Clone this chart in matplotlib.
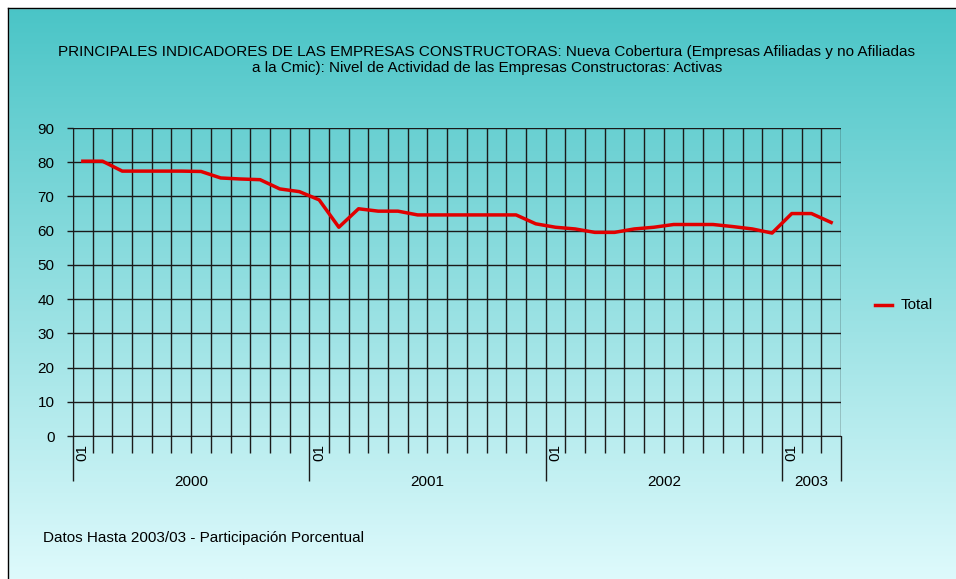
import numpy as np
import matplotlib.pyplot as plt
from matplotlib.lines import Line2D

# Nivel de actividad, empresas activas (%), mensual 2000/01 - 2003/03
total = [80.3, 80.3, 77.4, 77.4, 77.4, 77.4, 77.3, 75.4, 75.1, 74.9, 72.2, 71.4,
         69.0, 61.0, 66.4, 65.7, 65.7, 64.6, 64.6, 64.6, 64.6, 64.6, 64.6, 62.0,
         61.0, 60.5, 59.5, 59.5, 60.5, 61.0, 61.8, 61.8, 61.8, 61.2, 60.5, 59.3,
         65.0, 65.0, 62.4]
years = ['2000', '2001', '2002', '2003']
months_per_year = [12, 12, 12, 3]
y_ticks = list(range(0, 91, 10))

title = ("PRINCIPALES INDICADORES DE LAS EMPRESAS CONSTRUCTORAS: Nueva Cobertura (Empresas Afiliadas y no Afiliadas\n"
         "a la Cmic): Nivel de Actividad de las Empresas Constructoras: Activas")
footer = "Datos Hasta 2003/03 - Participación Porcentual"

plt.rcParams['font.family'] = ['Liberation Sans', 'DejaVu Sans']
FS = 11

W, H = 956, 579
fig = plt.figure(figsize=(W / 100, H / 100), dpi=100)

# gradient background
bg = fig.add_axes([0, 0, 1, 1])
top_c = np.array([72, 196, 198]) / 255
bot_c = np.array([222, 250, 252]) / 255
t = np.linspace(0, 1, 256)[:, None]
grad = top_c[None, :] * (1 - t) + bot_c[None, :] * t
bg.imshow(grad[:, None, :].repeat(2, axis=1), aspect='auto', extent=[0, 1, 0, 1])
bg.set_xlim(0, 1)
bg.set_ylim(0, 1)
bg.axis('off')
# white margin + border top/left
x0, y0 = 8 / W, 1 - 8 / H
bg.fill_between([0, 1], y0, 1, color='white', zorder=2)
bg.fill_between([0, x0], 0, 1, color='white', zorder=2)
bg.add_line(Line2D([x0, x0], [0, y0], color='black', lw=1, zorder=3))
bg.add_line(Line2D([x0, 1], [y0, y0], color='black', lw=1, zorder=3))

# main chart
left, right, top, bottom = 73, 841, 128, 436
ax = fig.add_axes([left / W, 1 - bottom / H, (right - left) / W, (bottom - top) / H])
ax.patch.set_alpha(0)

n = len(total)
x = np.arange(n) + 0.5
ax.plot(x, total, color='#e00000', lw=2.5, zorder=3)

ax.set_xlim(0, n)
ax.set_ylim(0, 90)

bounds = np.cumsum([0] + months_per_year)
ax.set_xticks(bounds)
ax.set_xticks([i for i in range(n + 1) if i not in bounds], minor=True)
ax.set_yticks(y_ticks)
ax.tick_params(axis='x', which='major', length=45 * 0.72, width=1, color='#1a1a1a', labelbottom=False)
ax.tick_params(axis='x', which='minor', length=17 * 0.72, width=1, color='#1a1a1a')
ax.tick_params(axis='y', length=6 * 0.72, width=1, color='#1a1a1a', labelsize=FS, pad=9)
ax.grid(True, which='both', color='#1a1a1a', lw=1)
for s in ['top', 'right']:
    ax.spines[s].set_visible(False)
for s in ['left', 'bottom']:
    ax.spines[s].set_color('#1a1a1a')

# month and year labels
lab_y = -(444 - bottom) / (bottom - top)
yr_y = -(482 - bottom) / (bottom - top)
for i, yr in enumerate(years):
    ax.text(bounds[i] + 0.5, lab_y, '01', rotation=90, ha='center', va='top',
            fontsize=FS, transform=ax.get_xaxis_transform())
    ax.text((bounds[i] + bounds[i + 1]) / 2, yr_y, yr, ha='center', va='center',
            fontsize=FS, transform=ax.get_xaxis_transform())

# legend
fig.add_artist(Line2D([875 / W, 892 / W], [1 - 305 / H, 1 - 305 / H], color='#e00000', lw=2.5))
fig.text(901 / W, 1 - 305 / H, 'Total', ha='left', va='center', fontsize=FS)

fig.text(487 / W, 1 - 60 / H, title, ha='center', va='center', fontsize=FS, linespacing=1.15)
fig.text(43 / W, 1 - 538 / H, footer, ha='left', va='center', fontsize=FS)

fig.savefig('out.png', dpi=100)
